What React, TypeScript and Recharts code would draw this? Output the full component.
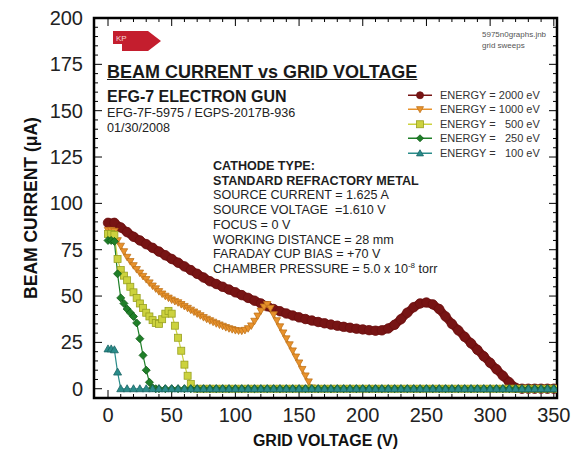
import React from 'react';
import { LineChart, Line, XAxis, YAxis, ReferenceLine, ReferenceArea, Label } from 'recharts';

const FONT = '"Liberation Sans", Arial, Helvetica, sans-serif';

// ---------- axes ----------
const xDomain: [number, number] = [-11, 352.5];
const yDomain: [number, number] = [-5, 200];
const xTickLabels = [0, 50, 100, 150, 200, 250, 300, 350];
const yTickLabels = [0, 25, 50, 75, 100, 125, 150, 175, 200];
const xMinorTicks = [0, 10, 20, 30, 40, 50, 60, 70, 80, 90, 100, 110, 120, 130, 140, 150, 160, 170, 180, 190, 200, 210, 220, 230, 240, 250, 260, 270, 280, 290, 300, 310, 320, 330, 340, 350];
const yMinorTicks = [0, 5, 10, 15, 20, 25, 30, 35, 40, 45, 50, 55, 60, 65, 70, 75, 80, 85, 90, 95, 100, 105, 110, 115, 120, 125, 130, 135, 140, 145, 150, 155, 160, 165, 170, 175, 180, 185, 190, 195, 200];

// ---------- data ----------
const voltsCoarse = [0, 5, 10, 15, 20, 25, 30, 35, 40, 45, 50, 55, 60, 65, 70, 75, 80, 85, 90, 95, 100, 105, 110, 115, 120, 125, 130, 135, 140, 145, 150, 155, 160, 165, 170, 175, 180, 185, 190, 195, 200, 205, 210, 215, 220, 225, 230, 235, 240, 245, 250, 255, 260, 265, 270, 275, 280, 285, 290, 295, 300, 305, 310, 315, 320, 325, 330, 335, 340, 345, 350];

const current2000 = [
  89.5, 89.5, 87, 84.5, 82, 80, 78, 76, 74, 72,
  70, 68, 66, 64, 62, 60, 58, 56.5, 55, 53.5,
  52, 50.5, 49, 47.5, 46, 44.5, 43, 41.8, 40.6, 39.5,
  38.5, 37.6, 36.8, 36, 35.3, 34.6, 34, 33.4, 32.9, 32.4,
  32, 31.6, 31.3, 31.5, 32.5, 34.5, 37.5, 41, 44, 46,
  46.5, 45.5, 43, 39, 35, 31.5, 28, 24.5, 21, 17.5,
  14, 10.5, 7, 3.5, 0.5, 0, 0, 0, 0, 0,
  0,
];

const volts1000 = [
  0, 2.5, 5, 7.5, 10, 12.5, 15, 17.5, 20, 22.5,
  25, 27.5, 30, 32.5, 35, 37.5, 40, 42.5, 45, 47.5,
  50, 52.5, 55, 57.5, 60, 62.5, 65, 67.5, 70, 72.5,
  75, 77.5, 80, 82.5, 85, 87.5, 90, 92.5, 95, 97.5,
  100, 102.5, 105, 107.5, 110, 112.5, 115, 117.5, 120, 122.5,
  125, 127.5, 130, 132.5, 135, 137.5, 140, 142.5, 145, 147.5,
  150, 152.5, 155, 157.5, 160, 162.5, 165,
  170, 175, 180, 185, 190, 195, 200, 205, 210, 215, 220, 225, 230, 235, 240, 245, 250, 255, 260, 265, 270, 275, 280, 285, 290, 295, 300, 305, 310, 315, 320, 325, 330, 335, 340, 345, 350,
];
const current1000 = [
  85.5, 85.5, 85, 80, 77, 74, 71, 68.7, 66.5, 64.4,
  62.5, 60.7, 59, 57.2, 55.5, 54, 52.5, 51.2, 50, 49,
  48, 47.2, 46.5, 45.5, 44.5, 43.5, 42.5, 41.5, 40.5, 39.5,
  38.5, 37.6, 36.8, 36, 35.2, 34.5, 33.8, 33.1, 32.5, 32,
  31.5, 31.3, 31.2, 31.6, 32.5, 34, 36.5, 39.3, 42, 44.2,
  45.5, 43.5, 40, 36.8, 33.5, 30.2, 27, 23.8, 20.5, 17.2,
  14, 10.5, 7, 3.8, 0.5, 0, 0,
  0, 0, 0, 0, 0, 0, 0, 0, 0, 0,
  0, 0, 0, 0, 0, 0, 0, 0, 0, 0,
  0, 0, 0, 0, 0, 0, 0, 0, 0, 0,
  0, 0, 0, 0, 0, 0, 0,
];

const volts500 = [
  0, 2.5, 5, 7.5, 10, 12.5, 15, 17.5, 20, 22.5, 25, 27.5, 30, 32.5, 35, 37.5, 40, 42.5, 45, 47.5, 50, 52.5, 55, 57.5, 60, 62.5, 65,
  70, 75, 80, 85, 90, 95, 100, 105, 110, 115, 120, 125, 130, 135, 140, 145, 150, 155, 160, 165, 170, 175, 180, 185, 190, 195, 200, 205, 210, 215, 220, 225, 230, 235, 240, 245, 250, 255, 260, 265, 270, 275, 280, 285, 290, 295, 300, 305, 310, 315, 320, 325, 330, 335, 340, 345, 350,
];
const current500 = [
  83.5, 83.5, 83, 70, 64, 61, 58.5, 55, 52, 49, 46, 43.5, 41, 39, 37, 35.5, 35, 37.5, 40.5, 42, 40.5, 34, 27.5, 20.5, 13, 7, 2.5,
  0, 0, 0, 0, 0, 0, 0, 0, 0, 0,
  0, 0, 0, 0, 0, 0, 0, 0, 0, 0,
  0, 0, 0, 0, 0, 0, 0, 0, 0, 0,
  0, 0, 0, 0, 0, 0, 0, 0, 0, 0,
  0, 0, 0, 0, 0, 0, 0, 0, 0, 0,
  0, 0, 0, 0, 0, 0, 0,
];

const volts250 = [
  0, 2.5, 5, 7.5, 10, 12.5, 15, 17.5, 20, 22.5, 25, 27.5, 30, 32.5, 35, 37.5,
  40, 45, 50, 55, 60, 65, 70, 75, 80, 85, 90, 95, 100, 105, 110, 115, 120, 125, 130, 135, 140, 145, 150, 155, 160, 165, 170, 175, 180, 185, 190, 195, 200, 205, 210, 215, 220, 225, 230, 235, 240, 245, 250, 255, 260, 265, 270, 275, 280, 285, 290, 295, 300, 305, 310, 315, 320, 325, 330, 335, 340, 345, 350,
];
const current250 = [
  80, 80, 79.5, 62, 49, 46, 43, 41, 39, 35.5, 27, 18, 10, 3.5, 0.5, 0,
  0, 0, 0, 0, 0, 0, 0, 0, 0, 0,
  0, 0, 0, 0, 0, 0, 0, 0, 0, 0,
  0, 0, 0, 0, 0, 0, 0, 0, 0, 0,
  0, 0, 0, 0, 0, 0, 0, 0, 0, 0,
  0, 0, 0, 0, 0, 0, 0, 0, 0, 0,
  0, 0, 0, 0, 0, 0, 0, 0, 0, 0,
  0, 0, 0,
];

const volts100 = [
  0, 2.5, 5, 7.5, 10,
  15, 20, 25, 30, 35, 40, 45, 50, 55, 60, 65, 70, 75, 80, 85, 90, 95, 100, 105, 110, 115, 120, 125, 130, 135, 140, 145, 150, 155, 160, 165, 170, 175, 180, 185, 190, 195, 200, 205, 210, 215, 220, 225, 230, 235, 240, 245, 250, 255, 260, 265, 270, 275, 280, 285, 290, 295, 300, 305, 310, 315, 320, 325, 330, 335, 340, 345, 350,
];
const current100 = [
  21.5, 21.5, 21, 9, 0,
  0, 0, 0, 0, 0, 0, 0, 0, 0, 0,
  0, 0, 0, 0, 0, 0, 0, 0, 0, 0,
  0, 0, 0, 0, 0, 0, 0, 0, 0, 0,
  0, 0, 0, 0, 0, 0, 0, 0, 0, 0,
  0, 0, 0, 0, 0, 0, 0, 0, 0, 0,
  0, 0, 0, 0, 0, 0, 0, 0, 0, 0,
  0, 0, 0, 0, 0, 0, 0, 0,
];

const legendLabels = ['ENERGY = 2000 eV', 'ENERGY = 1000 eV', 'ENERGY =   500 eV', 'ENERGY =   250 eV', 'ENERGY =   100 eV'];

const cathodeLines = [
  'CATHODE TYPE:',
  'STANDARD REFRACTORY METAL',
  'SOURCE CURRENT = 1.625 A',
  'SOURCE VOLTAGE  =1.610 V',
  'FOCUS = 0 V',
  'WORKING DISTANCE = 28 mm',
  'FARADAY CUP BIAS = +70 V',
];

// ---------- styling ----------
type Kind = 'circle' | 'triDown' | 'square' | 'diamond' | 'triUp';
const SERIES: { key: string; volts: number[]; current: number[]; fill: string; edge: string; kind: Kind; size: number; lw: number }[] = [
  { key: 'e2000', volts: voltsCoarse, current: current2000, fill: '#771414', edge: '#6c1010', kind: 'circle', size: 9.5, lw: 8.5 },
  { key: 'e1000', volts: volts1000, current: current1000, fill: '#e8922c', edge: '#c0741c', kind: 'triDown', size: 7.5, lw: 1.5 },
  { key: 'e500', volts: volts500, current: current500, fill: '#ccd23e', edge: '#98a020', kind: 'square', size: 7, lw: 1.2 },
  { key: 'e250', volts: volts250, current: current250, fill: '#1f7f28', edge: '#0f5a16', kind: 'diamond', size: 8, lw: 1.2 },
  { key: 'e100', volts: volts100, current: current100, fill: '#2a8c8a', edge: '#1a6464', kind: 'triUp', size: 8, lw: 1.2 },
];

function Marker({ kind, cx, cy, size, fill, stroke }: { kind: Kind; cx: number; cy: number; size: number; fill: string; stroke: string }) {
  const h = size / 2;
  const common = { fill, stroke, strokeWidth: 0.8 };
  switch (kind) {
    case 'circle':
      return <circle cx={cx} cy={cy} r={h} {...common} />;
    case 'triDown':
      return <polygon points={`${cx - h},${cy - h * 0.75} ${cx + h},${cy - h * 0.75} ${cx},${cy + h}`} {...common} />;
    case 'triUp':
      return <polygon points={`${cx - h},${cy + h * 0.75} ${cx + h},${cy + h * 0.75} ${cx},${cy - h}`} {...common} />;
    case 'square':
      return <rect x={cx - h} y={cy - h} width={size} height={size} {...common} />;
    case 'diamond':
      return <polygon points={`${cx},${cy - h} ${cx + h},${cy} ${cx},${cy + h} ${cx - h},${cy}`} {...common} />;
  }
  return null;
}

const PLOT_W = 463;
const PLOT_H = 380;
const xPerPx = (xDomain[1] - xDomain[0]) / PLOT_W;
const yPerPx = (yDomain[1] - yDomain[0]) / PLOT_H;
const MAJOR = 8;
const MINOR = 4;

export default function App() {
  const datasets = SERIES.map((s) => s.volts.map((v, i) => ({ v, i: s.current[i] })));

  const tickLines: React.ReactNode[] = [];
  xMinorTicks.forEach((t) => {
    const len = (t % 50 === 0 ? MAJOR : MINOR) * yPerPx;
    tickLines.push(
      <ReferenceLine key={`xb${t}`} segment={[{ x: t, y: yDomain[0] }, { x: t, y: yDomain[0] + len }]} stroke="#000" strokeWidth={1} ifOverflow="visible" />,
      <ReferenceLine key={`xt${t}`} segment={[{ x: t, y: yDomain[1] }, { x: t, y: yDomain[1] - len }]} stroke="#000" strokeWidth={1} ifOverflow="visible" />
    );
  });
  yMinorTicks.forEach((t) => {
    const len = (t % 25 === 0 ? MAJOR : MINOR) * xPerPx;
    tickLines.push(
      <ReferenceLine key={`yl${t}`} segment={[{ x: xDomain[0], y: t }, { x: xDomain[0] + len, y: t }]} stroke="#000" strokeWidth={1} ifOverflow="visible" />,
      <ReferenceLine key={`yr${t}`} segment={[{ x: xDomain[1], y: t }, { x: xDomain[1] - len, y: t }]} stroke="#000" strokeWidth={1} ifOverflow="visible" />
    );
  });

  const textBase: React.CSSProperties = { position: 'absolute', fontFamily: FONT, color: '#1a1a1a', whiteSpace: 'pre', margin: 0 };

  return (
    <div style={{ position: 'absolute', left: 0, top: 0, width: 576, height: 462, background: '#fff', fontFamily: FONT }}>
      <LineChart width={576} height={462} margin={{ top: 18, right: 19, bottom: 0, left: 0 }}>
        <XAxis
          type="number"
          dataKey="v"
          domain={xDomain}
          ticks={xTickLabels}
          interval={0}
          allowDataOverflow
          tickLine={false}
          axisLine={false}
          tickSize={0}
          tickMargin={10}
          height={64}
          tick={{ fontSize: 20, fill: '#222', fontFamily: FONT }}
        >
          <Label
            content={(props: any) => {
              const vb = props.viewBox || { x: 94, y: 398, width: 463, height: 64 };
              return (
                <text x={vb.x + vb.width / 2} y={vb.y + 42 + 5.7} textAnchor="middle" fontFamily={FONT} fontWeight="bold" fontSize={16} fill="#111">
                  GRID VOLTAGE (V)
                </text>
              );
            }}
          />
        </XAxis>
        <YAxis
          type="number"
          domain={yDomain}
          ticks={yTickLabels}
          interval={0}
          allowDataOverflow
          tickLine={false}
          axisLine={false}
          tickSize={0}
          tickMargin={11}
          width={94}
          tick={{ fontSize: 20, fill: '#222', fontFamily: FONT }}
        >
          <Label
            content={(props: any) => {
              const vb = props.viewBox || { x: 0, y: 18, width: 94, height: 380 };
              const cx = vb.x + 31;
              const cy = vb.y + vb.height / 2;
              return (
                <text x={cx} y={cy} transform={`rotate(-90, ${cx}, ${cy})`} dy={6.2} textAnchor="middle" fontFamily={FONT} fontWeight="bold" fontSize={17.5} fill="#111">
                  BEAM CURRENT (μA)
                </text>
              );
            }}
          />
        </YAxis>
        {tickLines}
        {SERIES.map((s, si) => (
          <Line
            key={s.key}
            data={datasets[si]}
            dataKey="i"
            type="linear"
            stroke={s.fill}
            strokeWidth={s.lw}
            strokeLinejoin="round"
            activeDot={false}
            isAnimationActive={false}
            dot={(p: any) => {
              if (p.cx == null || p.cy == null) return <g key={`${s.key}-${p.index}`} />;
              return (
                <g key={`${s.key}-${p.index}`}>
                  <Marker kind={s.kind} cx={p.cx} cy={p.cy} size={s.size} fill={s.fill} stroke={s.edge} />
                </g>
              );
            }}
          />
        ))}
        <ReferenceArea x1={xDomain[0]} x2={xDomain[1]} y1={yDomain[0]} y2={yDomain[1]} fill="none" fillOpacity={0} stroke="#000" strokeWidth={2.5} ifOverflow="visible" />
      </LineChart>

      {/* KP tag */}
      <svg style={{ position: 'absolute', left: 0, top: 0 }} width={576} height={462} pointerEvents="none">
        <polygon points="113,31 148,31 161,41 148,51 122,51 122,44 113,44" fill="#c41e2e" />
        <text x={116} y={40.5} fontFamily={FONT} fontSize={8} fill="#f4d8d8">KP</text>
      </svg>

      <div style={{ ...textBase, left: 482, top: 29, fontSize: 8, lineHeight: '11px', color: '#555' }}>
        {'5975n0graphs.jnb\ngrid sweeps'}
      </div>

      <div style={{ ...textBase, left: 107, top: 61.9, fontSize: 18, lineHeight: '20.7px', fontWeight: 'bold', textDecoration: 'underline' }}>
        BEAM CURRENT vs GRID VOLTAGE
      </div>
      <div style={{ ...textBase, left: 107, top: 88, fontSize: 16, lineHeight: '18.4px', fontWeight: 'bold' }}>
        EFG-7 ELECTRON GUN
      </div>
      <div style={{ ...textBase, left: 107, top: 106, fontSize: 12.6, lineHeight: '14.5px', color: '#222' }}>
        {'EFG-7F-5975 / EGPS-2017B-936\n01/30/2008'}
      </div>

      <div style={{ ...textBase, left: 213, top: 159, fontSize: 12.6, lineHeight: '14.7px', color: '#1e1e1e' }}>
        {cathodeLines.map((l, i) => (
          <div key={i} style={{ fontWeight: i < 2 ? 'bold' : 'normal' }}>{l}</div>
        ))}
        <div>
          CHAMBER PRESSURE = 5.0 x 10<span style={{ fontSize: 8, position: 'relative', top: -5 }}>-8</span> torr
        </div>
      </div>

      {/* legend */}
      {legendLabels.map((lab, i) => {
        const s = SERIES[i];
        const top = 95 + 14.5 * i - 7.25;
        return (
          <div key={lab} style={{ position: 'absolute', left: 404, top, height: 14.5, width: 160 }}>
            <svg width={32} height={14.5} style={{ position: 'absolute', left: 0, top: 0 }}>
              <line x1={4} x2={28} y1={7.25} y2={7.25} stroke={s.fill} strokeWidth={1.5} />
              <Marker kind={s.kind} cx={16} cy={7.25} size={7} fill={s.fill} stroke={s.edge} />
            </svg>
            <div style={{ ...textBase, left: 36, top: 0, fontSize: 11, lineHeight: '14.5px', color: '#333' }}>{lab}</div>
          </div>
        );
      })}
    </div>
  );
}
